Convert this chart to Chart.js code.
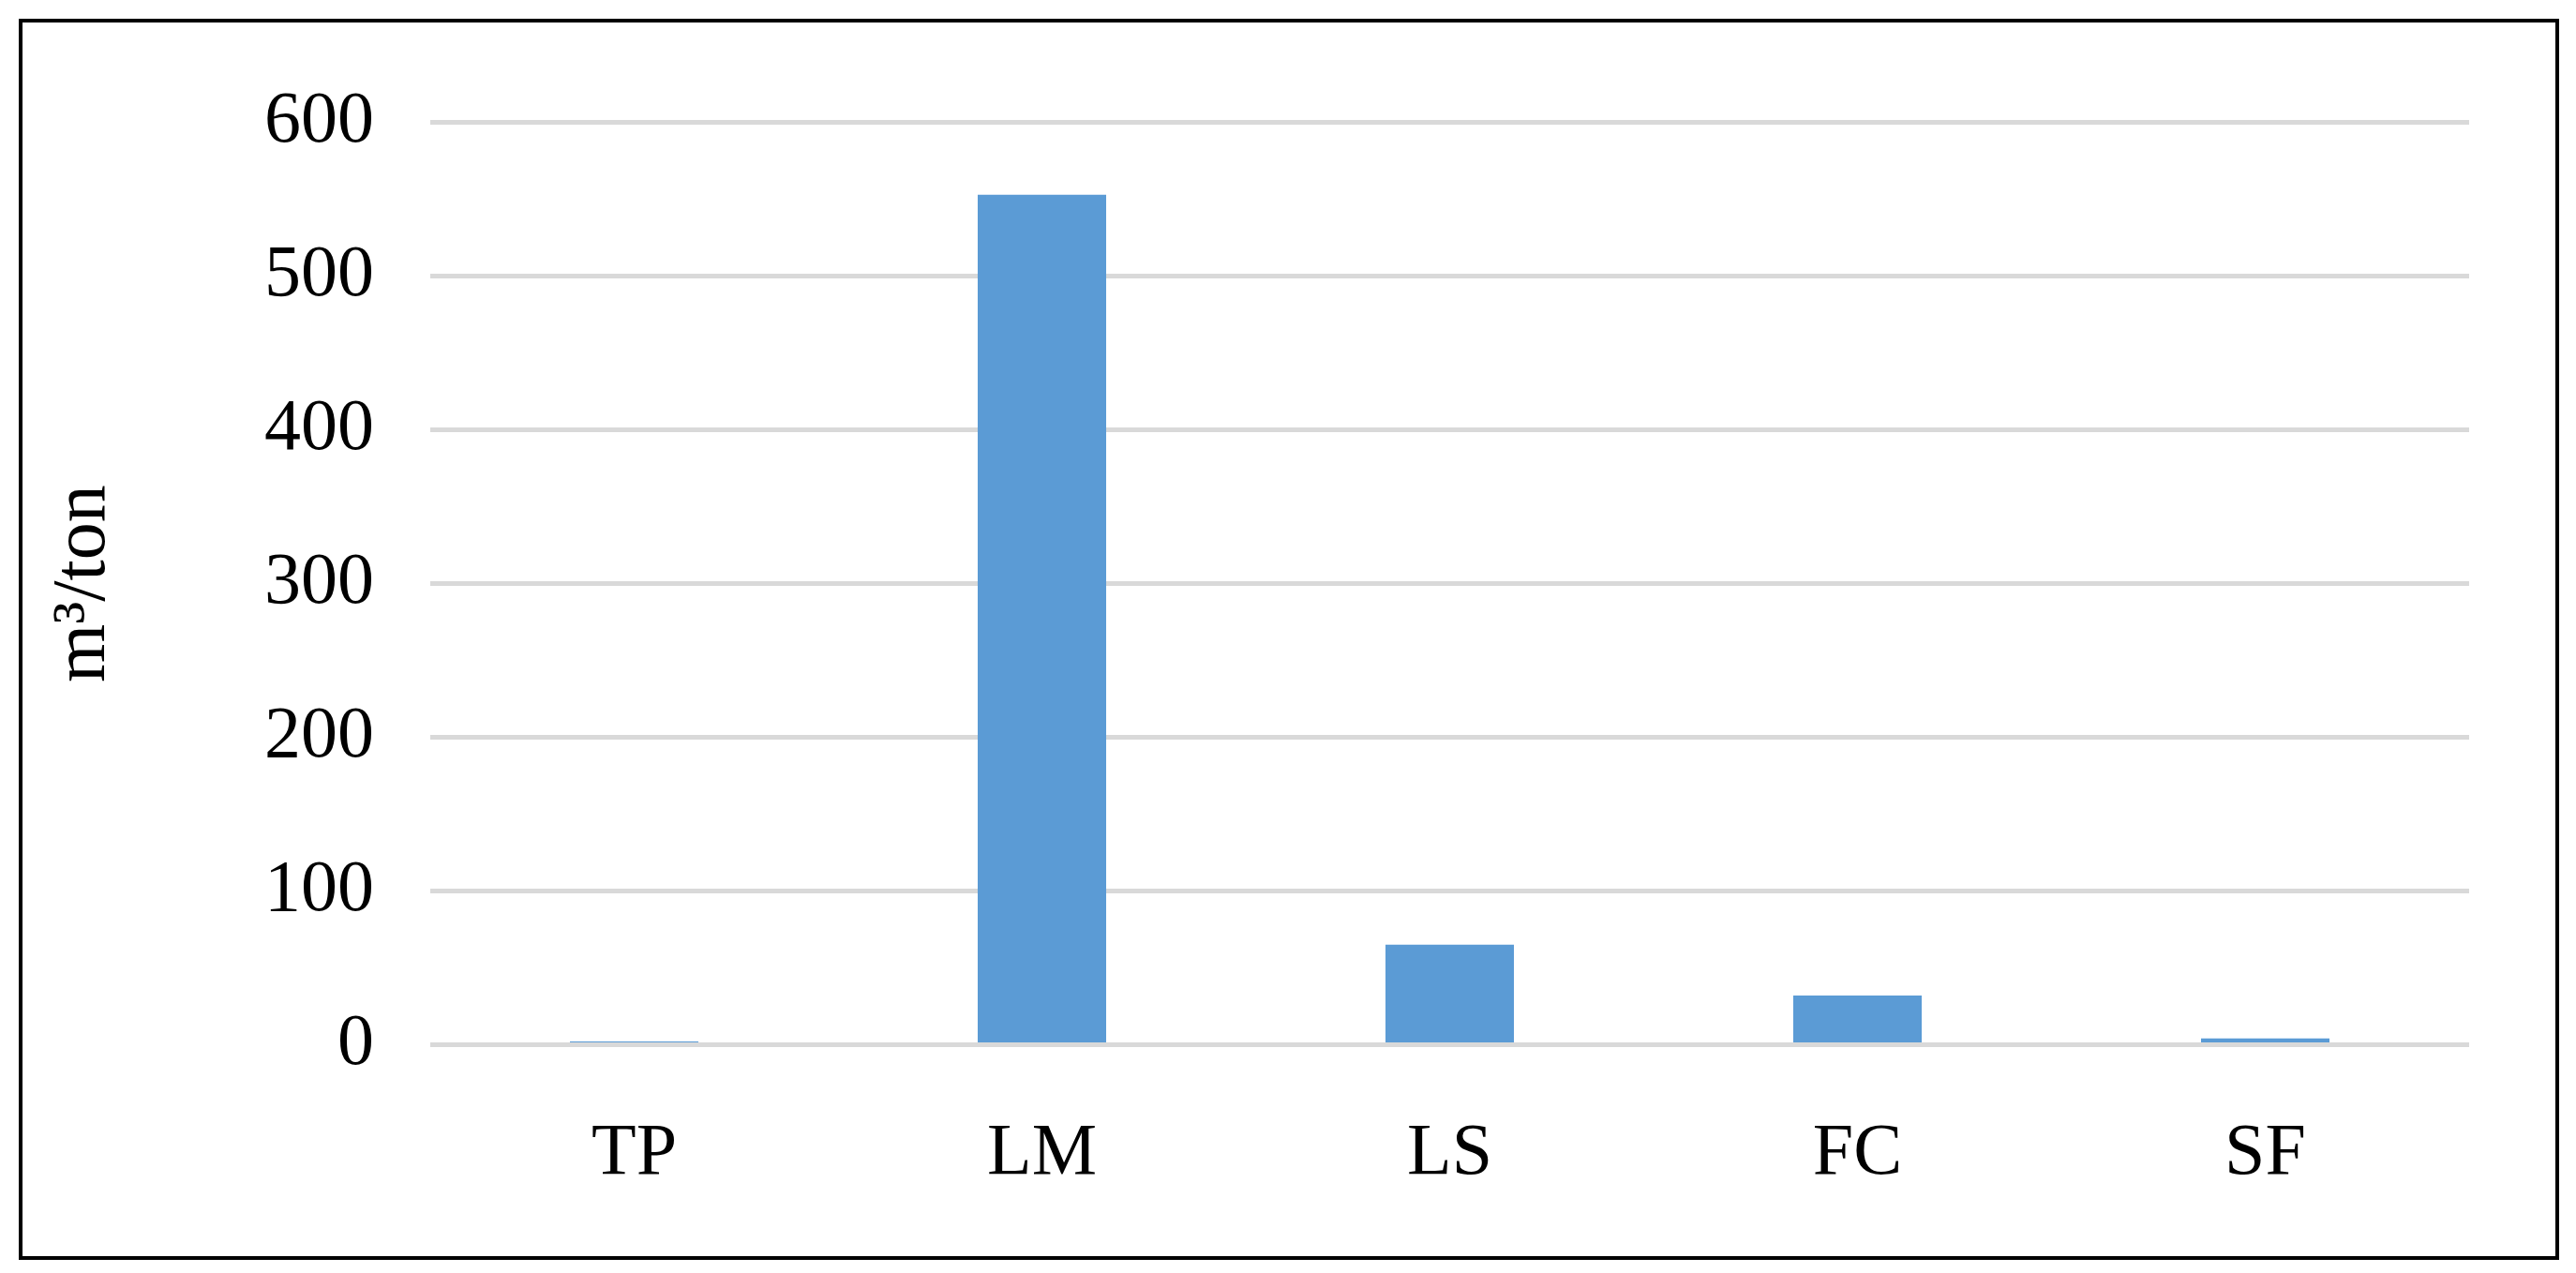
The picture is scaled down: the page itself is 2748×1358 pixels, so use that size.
<!DOCTYPE html>
<html>
<head>
<meta charset="utf-8">
<script src="https://cdn.jsdelivr.net/npm/chart.js@4/dist/chart.umd.min.js"></script>
<style>
  html, body { margin: 0; padding: 0; background: #fff; }
  #frame {
    position: absolute; left: 20px; top: 20px;
    width: 2702px; height: 1316px;
    border: 4px solid #000; background: #fff;
  }
  canvas { display: block; }
</style>
</head>
<body>
<div id="frame"><canvas id="chart" width="2702" height="1316"></canvas></div>
<script>
// Values
const categories = ['TP', 'LM', 'LS', 'FC', 'SF'];
const volumes = [2, 553, 65, 32, 4];
const yTicks = [0, 100, 200, 300, 400, 500, 600];

const serif = '"Liberation Serif", "DejaVu Serif", serif';

new Chart(document.getElementById('chart'), {
    type: 'bar',
    data: {
        labels: categories,
        datasets: [{
            data: volumes,
            backgroundColor: '#5b9bd5',
            categoryPercentage: 1,
            barPercentage: 0.315
        }]
    },
    options: {
        responsive: false,
        animation: false,
        layout: { padding: { top: 50, right: 92, bottom: 0, left: 0 } },
        plugins: { legend: { display: false }, tooltip: { enabled: false } },
        scales: {
            x: {
                grid: { display: false },
                border: { display: false },
                ticks: { color: '#000', font: { family: serif, size: 78 }, padding: 62 }
            },
            y: {
                min: 0,
                max: 600,
                afterBuildTicks: (axis) => { axis.ticks = yTicks.map(v => ({ value: v })); },
                afterFit: (axis) => { axis.width = 435; },
                border: { display: false },
                grid: { color: '#d9d9d9', lineWidth: 5, drawTicks: false },
                ticks: { color: '#000', font: { family: serif, size: 78 }, padding: 60 },
                title: {
                    display: true,
                    text: 'm³/ton',
                    color: '#000',
                    font: { family: serif, size: 80 },
                    padding: { top: 18, bottom: 40 }
                }
            }
        }
    }
});
</script>
</body>
</html>
